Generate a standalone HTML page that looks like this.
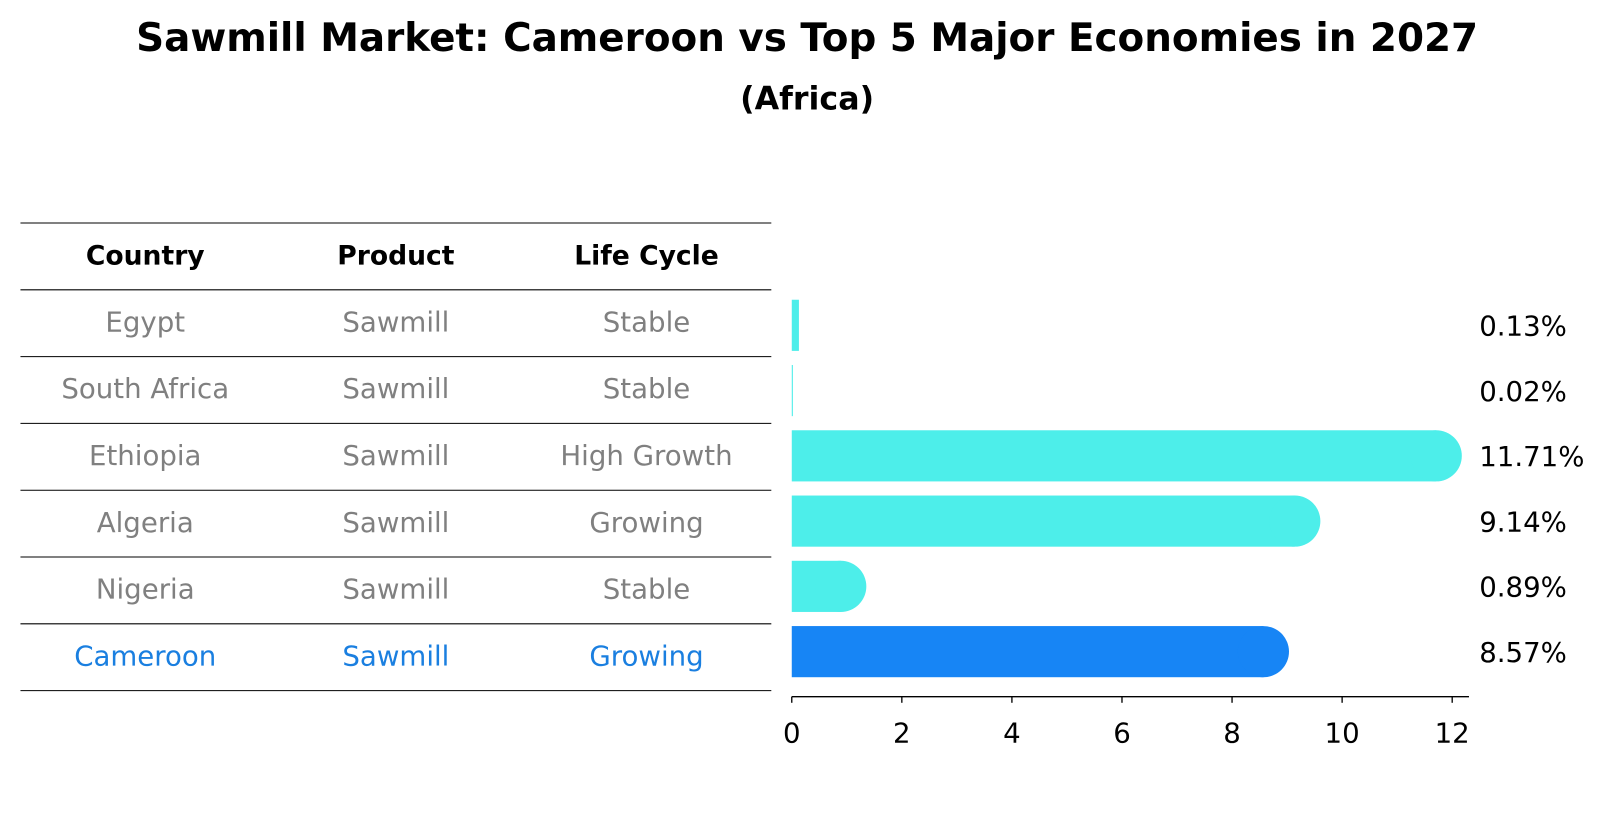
<!DOCTYPE html>
<html><head><meta charset="utf-8"><style>
html,body{margin:0;padding:0;background:#fff;}
svg{display:block;font-family:"DejaVu Sans","Liberation Sans",sans-serif;}
</style></head><body>
<svg width="1604" height="823" viewBox="0 0 1568 804.5" xmlns="http://www.w3.org/2000/svg">
<text x="789" y="50" text-anchor="middle" font-size="38" font-weight="bold">Sawmill Market: Cameroon vs Top 5 Major Economies in 2027</text>
<text x="789" y="107" text-anchor="middle" font-size="31" font-weight="bold">(Africa)</text>
<g id="table"></g>
<g id="bars"></g>
<g id="axis"></g>
</svg>
<script>
const countries=["Egypt","South Africa","Ethiopia","Algeria","Nigeria","Cameroon"];
const products=["Sawmill","Sawmill","Sawmill","Sawmill","Sawmill","Sawmill"];
const lifeCycles=["Stable","Stable","High Growth","Growing","Stable","Growing"];
const values=[0.13,0.02,11.71,9.14,0.89,8.57];
const labels=["0.13%","0.02%","11.71%","9.14%","0.89%","8.57%"];
const ticks=[0,2,4,6,8,10,12];
const NS="http://www.w3.org/2000/svg";
function mk(t,a,p){const e=document.createElementNS(NS,t);for(const k in a)e.setAttribute(k,a[k]);p.appendChild(e);return e;}
const x0=774,ppu=53.8,axisY=681;
const xs=v=>x0+v*ppu;
const rowTop=218,rowH=65.3;
const yc=i=>rowTop+rowH*(i+1)+rowH/2;
const by=i=>318+63.8*i;
const tbl=document.getElementById('table');
for(let i=0;i<=7;i++){const l=mk('line',{x1:20,x2:754,y1:rowTop+rowH*i,y2:rowTop+rowH*i,stroke:'#000','stroke-width':1},tbl);
}
const cx=[142,387,632];
["Country","Product","Life Cycle"].forEach((h,j)=>{const t=mk('text',{x:cx[j],y:rowTop+rowH/2+8,'text-anchor':'middle','font-size':26,'font-weight':'bold'},tbl);t.textContent=h;
});
countries.forEach((c,i)=>{const col=i===5?'#1a7fe0':'#808080';
[c,products[i],lifeCycles[i]].forEach((s,j)=>{const t=mk('text',{x:cx[j],y:yc(i)+8,'text-anchor':'middle','font-size':27,fill:col},tbl);t.textContent=s;
});});
const bars=document.getElementById('bars');
const bh=50;
values.forEach((v,i)=>{const col=i===5?'#1785F5':'#4DEEEA';const cy=by(i);const g=mk('g',{},bars);

const w=Math.max(xs(v)-x0,0.8);
mk('rect',{x:x0,y:cy-bh/2,width:w,height:bh,fill:col},g);
if(v>=0.5)mk('circle',{cx:xs(v),cy:cy,r:bh/2,fill:col},g);
const t=mk('text',{x:1446,y:cy+10,'font-size':27},g);t.textContent=labels[i];
});
const ax=document.getElementById('axis');
mk('line',{x1:x0,x2:1436,y1:axisY,y2:axisY,stroke:'#000','stroke-width':1.3},ax);
ticks.forEach(tk=>{mk('line',{x1:xs(tk),x2:xs(tk),y1:axisY,y2:axisY+6,stroke:'#000','stroke-width':1.3},ax);
const t=mk('text',{x:xs(tk),y:axisY+45,'text-anchor':'middle','font-size':27},ax);t.textContent=tk;
});
</script>
</body></html>
